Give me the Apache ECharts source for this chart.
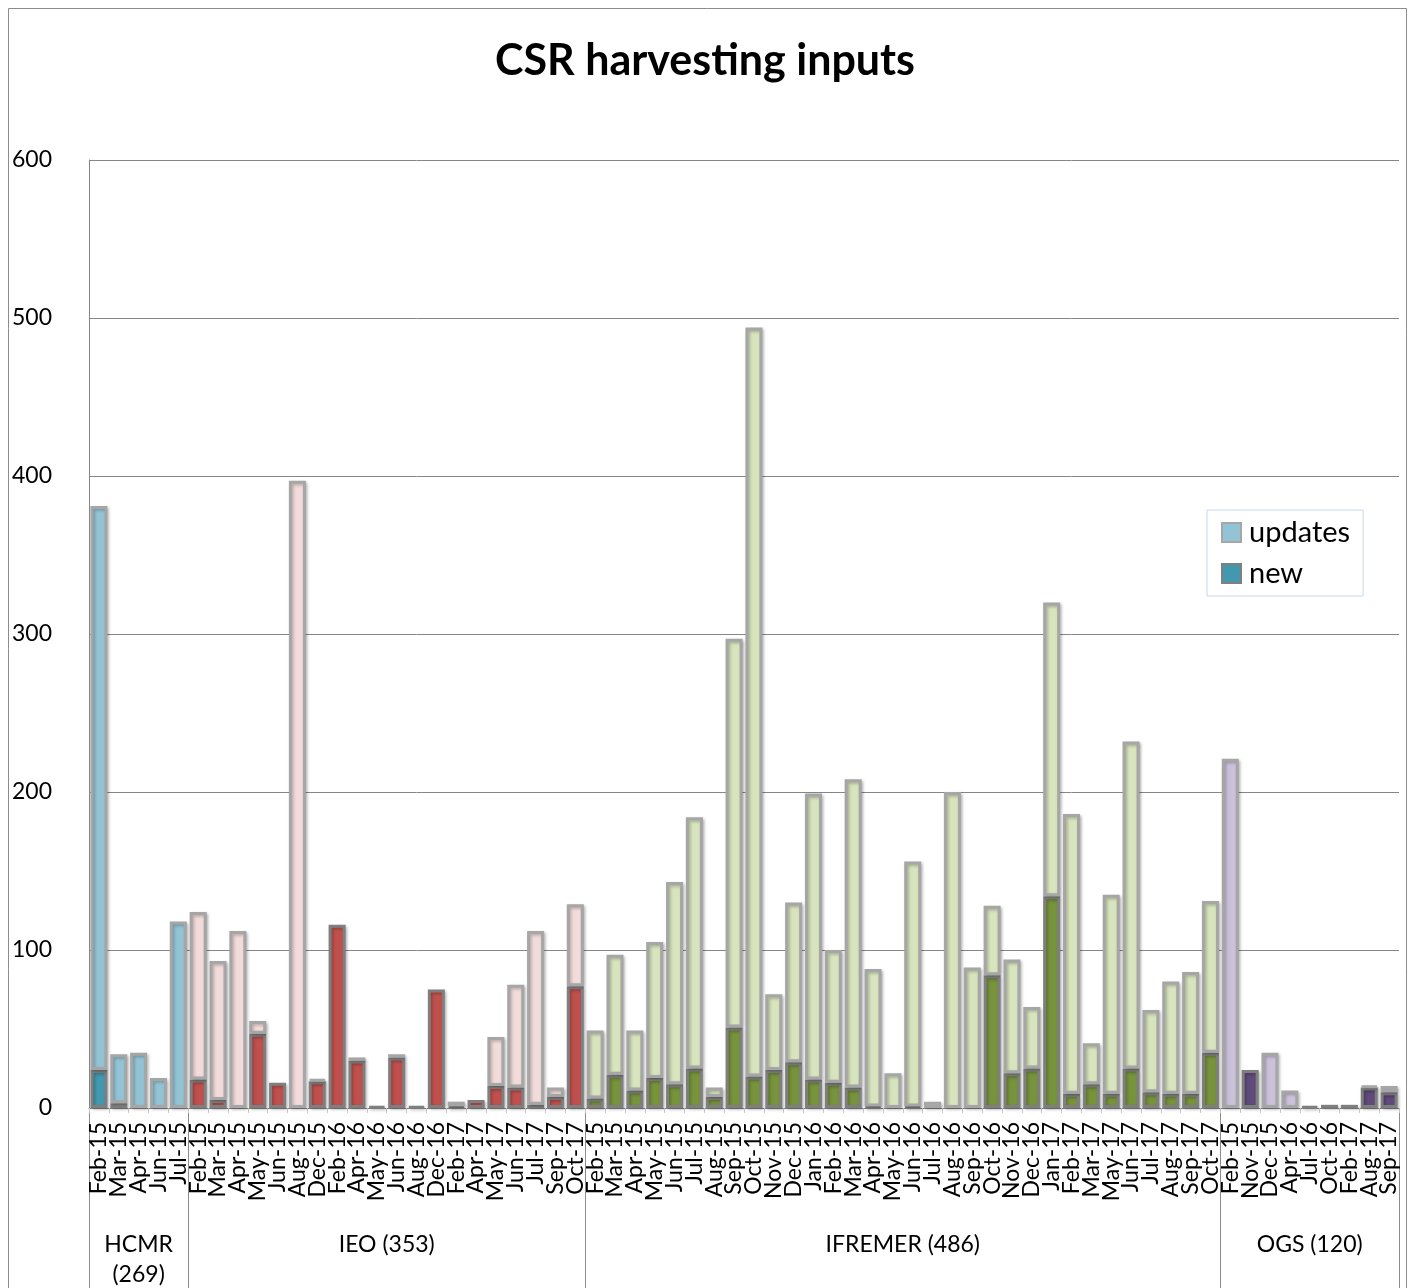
<!DOCTYPE html>
<html><head><meta charset="utf-8">
<script src="https://cdn.jsdelivr.net/npm/echarts@6/dist/echarts.min.js"></script>
<style>html,body{margin:0;padding:0;background:#fff}#c{width:1410px;height:1288px}</style>
</head><body><div id="c"></div>
<script>
// ---- data ----
const groupNames = ['HCMR\n(269)', 'IEO (353)', 'IFREMER (486)', 'OGS (120)'];

const hcmrMonths = ['Feb-15','Mar-15','Apr-15','Jun-15','Jul-15'];
const hcmrNew     = [24, 3, 0, 0, 0];
const hcmrUpdates = [357, 31, 35, 19, 118];

const ieoMonths = ['Feb-15','Mar-15','Apr-15','May-15','Jun-15','Aug-15','Dec-15','Feb-16','Apr-16','May-16','Jun-16','Aug-16','Dec-16','Feb-17','Apr-17','May-17','Jun-17','Jul-17','Sep-17','Oct-17'];
const ieoNew     = [18, 5, 0, 47, 16, 0, 17, 116, 30, 1, 32, 1, 75, 1, 5, 14, 13, 2, 7, 77];
const ieoUpdates = [106, 88, 112, 8, 0, 397, 1, 0, 2, 0, 2, 0, 0, 3, 0, 31, 65, 110, 6, 52];

const ifremerMonths = ['Feb-15','Mar-15','Apr-15','May-15','Jun-15','Jul-15','Aug-15','Sep-15','Oct-15','Nov-15','Dec-15','Jan-16','Feb-16','Mar-16','Apr-16','May-16','Jun-16','Jul-16','Aug-16','Sep-16','Oct-16','Nov-16','Dec-16','Jan-17','Feb-17','Mar-17','May-17','Jun-17','Jul-17','Aug-17','Sep-17','Oct-17'];
const ifremerNew     = [6, 21, 11, 19, 15, 25, 7, 51, 20, 24, 29, 18, 16, 13, 1, 0, 1, 0, 0, 0, 84, 22, 25, 134, 9, 15, 9, 25, 10, 9, 9, 35];
const ifremerUpdates = [43, 76, 38, 86, 128, 159, 6, 246, 474, 48, 101, 181, 84, 195, 87, 22, 155, 4, 200, 89, 44, 72, 39, 186, 177, 26, 126, 207, 52, 71, 77, 96];

const ogsMonths = ['Feb-15','Nov-15','Dec-15','Apr-16','Jul-16','Oct-16','Feb-17','Aug-17','Sep-17'];
const ogsNew     = [0, 24, 0, 0, 1, 2, 2, 13, 10];
const ogsUpdates = [221, 0, 35, 11, 0, 0, 0, 1, 4];

const updatesColors = ['#93C4D6', '#F2DCDB', '#D7E4BD', '#CCC1DA'];
const newColors     = ['#4198AF', '#C0504D', '#77933C', '#604A7B'];

// ---- build ----
const groups = [
  {months: hcmrMonths, nw: hcmrNew, up: hcmrUpdates},
  {months: ieoMonths, nw: ieoNew, up: ieoUpdates},
  {months: ifremerMonths, nw: ifremerNew, up: ifremerUpdates},
  {months: ogsMonths, nw: ogsNew, up: ogsUpdates}
];
const cats = [], newData = [], updData = [], bounds = [];
groups.forEach((g, gi) => {
  bounds.push(cats.length);
  g.months.forEach((m, i) => {
    cats.push(gi + '|' + m);
    newData.push(g.nw[i] ? {value: g.nw[i], itemStyle: {color: newColors[gi]}} : '-');
    updData.push(g.up[i] ? {value: g.up[i], itemStyle: {color: updatesColors[gi]}} : '-');
  });
});
bounds.push(cats.length);

const FONT = 'Lato, "Open Sans", sans-serif';
const chart = echarts.init(document.getElementById('c'), null, {renderer: 'canvas'});
const shadow = {shadowBlur: 3, shadowColor: 'rgba(0,0,0,0.25)', shadowOffsetX: 1.5, shadowOffsetY: 1.5};
chart.setOption({
  animation: false,
  backgroundColor: '#fff',
  title: {
    text: 'CSR harvesting inputs', left: 'center', top: 35,
    textStyle: {fontFamily: FONT, fontSize: 43, fontWeight: 'bold', color: '#000'}
  },
  legend: {
    data: ['updates', 'new'], orient: 'vertical', left: 1207, top: 510,
    padding: [8, 13, 8, 14], itemGap: 12, itemWidth: 19, itemHeight: 19, icon: 'rect',
    borderColor: '#C6D6EE', borderWidth: 1, backgroundColor: '#fff',
    textStyle: {fontFamily: FONT, fontSize: 29, color: '#000', padding: [0, 0, 0, 3]}
  },
  grid: {left: 89, right: 11, top: 160, bottom: 180, containLabel: false},
  xAxis: {
    type: 'category', data: cats,
    axisLine: {lineStyle: {color: '#868686', width: 1}},
    axisTick: {show: true, interval: 0, length: 5, lineStyle: {color: '#C8C8C8'}},
    axisLabel: {interval: 0, rotate: 90, margin: 14, fontFamily: FONT, fontSize: 23, color: '#000',
      formatter: v => v.split('|')[1]}
  },
  yAxis: {
    type: 'value', min: 0, max: 600, interval: 100,
    axisLine: {show: true, lineStyle: {color: '#868686', width: 1}},
    axisTick: {show: false},
    axisLabel: {margin: 37, fontFamily: FONT, fontSize: 23, color: '#000'},
    splitLine: {lineStyle: {color: '#868686', width: 1}}
  },
  series: [
    {name: 'new', type: 'bar', stack: 'total', barWidth: 17, data: newData,
     itemStyle: Object.assign({color: newColors[0], borderColor: '#7F7F7F', borderWidth: 3}, shadow)},
    {name: 'updates', type: 'bar', stack: 'total', barWidth: 17, data: updData,
     itemStyle: Object.assign({color: updatesColors[0], borderColor: '#A6A6A6', borderWidth: 3}, shadow)}
  ]
});

// group separators and group names, positioned via the axis scale
const px = i => chart.convertToPixel({xAxisIndex: 0}, i);
const half = (px(1) - px(0)) / 2;
const y0 = chart.convertToPixel({yAxisIndex: 0}, 0);
const H = chart.getHeight();
const els = [{
  type: 'rect', shape: {x: 8.5, y: 8.5, width: 1398, height: 1300},
  style: {fill: null, stroke: '#8C8C8C', lineWidth: 1}, silent: true
}];
bounds.forEach(b => {
  const x = Math.round(b < cats.length ? px(b) - half : px(cats.length - 1) + half) + 0.5;
  els.push({type: 'line', shape: {x1: x, y1: y0, x2: x, y2: H}, style: {stroke: '#8C8C8C', lineWidth: 1}, silent: true});
});
groupNames.forEach((name, gi) => {
  const xs = px(bounds[gi]) - half, xe = px(bounds[gi + 1] - 1) + half;
  els.push({type: 'text', x: (xs + xe) / 2, y: y0 + 122,
    style: {text: name, font: '23px ' + FONT, fill: '#000', align: 'center', verticalAlign: 'top', lineHeight: 30},
    silent: true});
});
chart.setOption({graphic: els});
</script></body></html>
